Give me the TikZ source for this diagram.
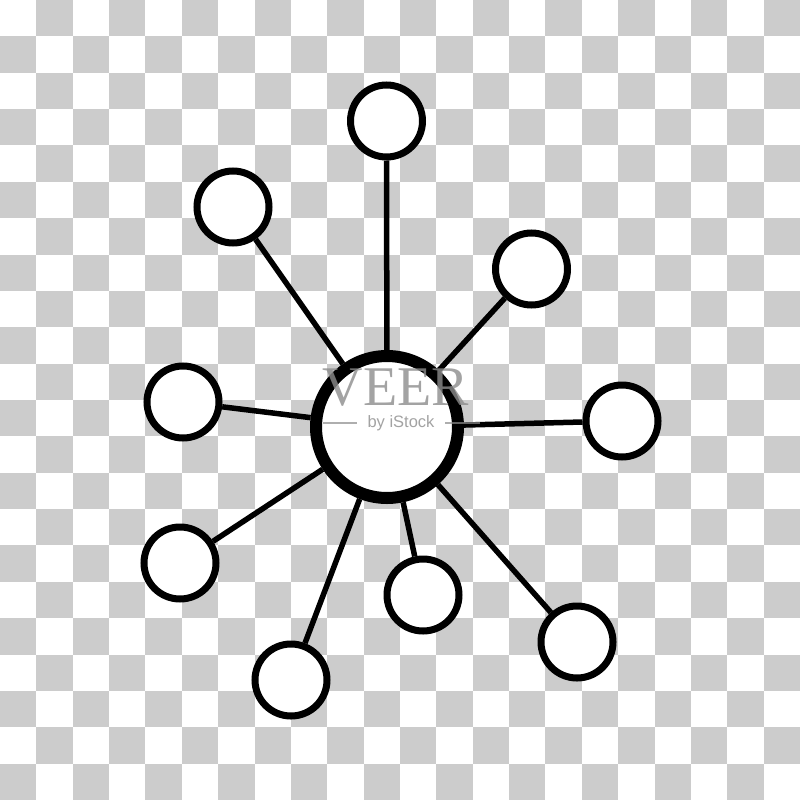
\documentclass[tikz,border=0pt]{standalone}
\usepackage{fontspec}
\setmainfont{Liberation Serif}
\newfontfamily\wmsans{Liberation Sans}
\definecolor{checkgray}{HTML}{CCCCCC}
\definecolor{wmgray}{HTML}{8C8C8C}
\begin{document}
\begin{tikzpicture}[x=1pt,y=-1pt,
  hub/.style={circle,draw=black,fill=white,line width=12pt,minimum size=142pt,inner sep=0pt},
  leaf/.style={circle,draw=black,fill=white,line width=7pt,minimum size=72pt,inner sep=0pt},
  spoke/.style={draw=black,line width=5.5pt},
  wm/.style={text=wmgray,opacity=0.8,inner sep=0pt}]
\useasboundingbox (0,0) rectangle (800,800);
% checkerboard background
\fill[white] (0,0) rectangle (800,800);
\foreach \i in {0,...,21}{
  \foreach \j in {0,...,21}{
    \pgfmathparse{int(mod(\i+\j,2))}
    \ifnum\pgfmathresult=1
      \fill[checkgray] ({\i*36.363636},{\j*36.363636}) rectangle ({(\i+1)*36.363636},{(\j+1)*36.363636});
    \fi
  }
}
% nodes
\node[hub] (c) at (387,427) {};
\node[leaf] (n1) at (386.5,121) {};
\node[leaf] (n2) at (233,207) {};
\node[leaf] (n3) at (531.5,269) {};
\node[leaf] (n4) at (183,402) {};
\node[leaf] (n5) at (622,421) {};
\node[leaf] (n6) at (180,563) {};
\node[leaf] (n7) at (291,680) {};
\node[leaf] (n8) at (423,595) {};
\node[leaf] (n9) at (577,642) {};
% spokes
\foreach \n in {n1,n2,n3,n4,n5,n6,n7,n8,n9}{
  \draw[spoke] (c) -- (\n);
}
% watermark
\node[wm,anchor=base,text depth=0pt,font=\fontsize{56}{56}\selectfont] (veer) at (396,405) {VEER};
\node[wm,anchor=base,font=\wmsans\fontsize{16.5}{16.5}\selectfont] (istock) at (401,427) {by iStock};
\coordinate (l1) at (323,423);
\coordinate (l2) at (357,423);
\coordinate (r1) at (445,423);
\coordinate (r2) at (480,423);
\draw[wmgray,opacity=0.7,line width=1.2pt] (l1) -- (l2);
\draw[wmgray,opacity=0.7,line width=1.2pt] (r1) -- (r2);
\end{tikzpicture}
\end{document}
